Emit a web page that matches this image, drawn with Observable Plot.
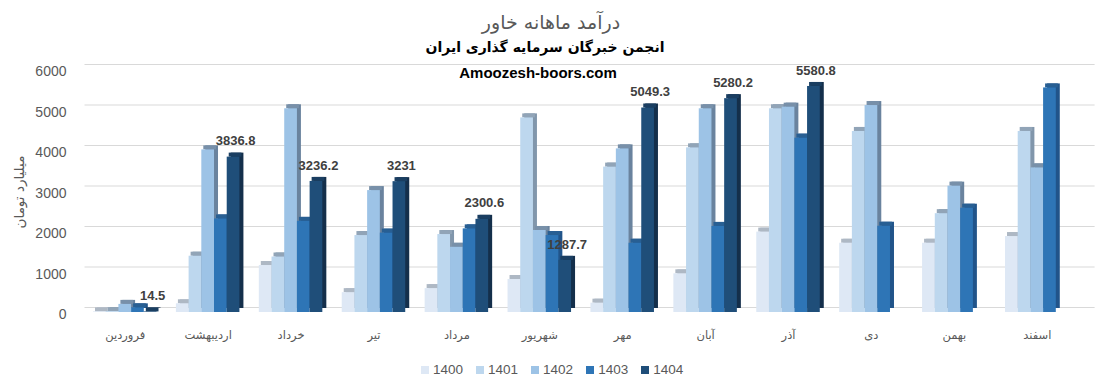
<!DOCTYPE html>
<html><head><meta charset="utf-8">
<script src="https://cdn.jsdelivr.net/npm/d3@7"></script>
<script src="https://cdn.jsdelivr.net/npm/@observablehq/plot@0.6"></script>
<style>
body{margin:0;background:#fff;}
#wrap{position:relative;width:1102px;height:385px;overflow:hidden;font-family:"Liberation Sans",Arial,sans-serif;background:#fff;}
#t1{position:absolute;top:8px;left:0;width:1102px;text-align:center;font-family:"DejaVu Sans";font-size:19px;color:#595959;line-height:28px;direction:rtl;}
#t2{position:absolute;top:37px;left:0;width:1090px;text-align:center;font-family:"DejaVu Sans";font-weight:bold;font-size:14px;color:#000;line-height:20px;direction:rtl;}
#site{position:absolute;top:63px;left:0;width:1076px;text-align:center;font-family:"Liberation Sans";font-weight:bold;font-size:15px;color:#000;line-height:20px;}
#ylab{position:absolute;left:19px;top:192px;transform:translate(-50%,-50%) rotate(-90deg);font-family:"DejaVu Sans";font-size:13.5px;color:#595959;white-space:nowrap;direction:rtl;}
#grid,#chart{position:absolute;left:0;top:52px;}
#legend{position:absolute;left:421px;top:361px;display:flex;gap:13px;align-items:center;font-size:13.5px;color:#595959;line-height:18px;}
#legend .it{display:flex;align-items:center;}
#legend .sw{width:8px;height:8px;margin-right:4px;}
#chart g[aria-label^="fx-axis"] text{font-family:"DejaVu Sans";font-size:11.5px;fill:#595959;}
</style>
</head><body>
<div id="wrap">
  <div id="t1">درآمد ماهانه خاور</div>
  <div id="t2">انجمن خبرگان سرمایه گذاری ایران</div>
  <div id="grid"></div>
  <div id="chart"></div>
  <div id="site">Amoozesh-boors.com</div>
  <div id="ylab">میلیارد تومان</div>
  <div id="legend"></div>
</div>
<script>
// ---- data ----
const months = ["فروردین","اردیبهشت","خرداد","تیر","مرداد","شهریور","مهر","آبان","آذر","دی","بهمن","اسفند"];
const years = ["1400","1401","1402","1403","1404"];
const v1400 = [15, 215, 1160, 490, 590, 815, 230, 955, 1985, 1710, 1710, 1875];
const v1401 = [20, 1390, 1370, 1900, 1925, 4805, 3590, 4065, 5030, 4470, 2440, 4470];
const v1402 = [200, 4015, 5030, 3010, 1610, 2025, 4040, 5030, 5070, 5110, 3120, 3570];
const v1403 = [115, 2310, 2250, 1960, 2065, 1900, 1710, 2125, 4305, 2130, 2575, 5545];
const v1404 = [14.5, 3836.8, 3236.2, 3231, 2300.6, 1287.7, 5049.3, 5280.2, 5580.8, null, null, null];
const yTicks = [0, 1000, 2000, 3000, 4000, 5000, 6000];

// ---- styles ----
const faceColors = ["#dee8f5", "#bdd7ee", "#9dc3e6", "#2e75b6", "#1f4e79"];
const topColors  = ["#aeb8c4", "#91a4b7", "#7890a9", "#285f93", "#1a3e61"];
const sideColors = ["#b5c0cd", "#8196ab", "#6a839e", "#21548a", "#142f4b"];

const series = [v1400, v1401, v1402, v1403, v1404];
const rows = [];
months.forEach((m, i) => years.forEach((y, j) => {
  const v = series[j][i];
  if (v != null) rows.push({month: m, year: y, value: v});
}));

const yScale = {domain: [0, 6000], range: [260, 17], nice: false};
const baseStyle = {fontFamily: "Liberation Sans", fontSize: "14px", color: "#595959", background: "transparent"};

// background: gridlines + y axis
const grid = Plot.plot({
  width: 1102, height: 300, marginLeft: 74.5, marginRight: 23.4, marginTop: 17, marginBottom: 40,
  style: baseStyle,
  y: {...yScale, axis: null},
  marks: [
    Plot.ruleY(yTicks, {y: d => d, stroke: "#d9d9d9", strokeWidth: 1.2, dy: -5, insetLeft: 10, insetRight: -16}),
    Plot.axisY(yTicks, {tickSize: 0, tickPadding: 8.5, dy: 2.5, tickFormat: d3.format("d"), label: null, fill: "#595959"})
  ]
});
document.getElementById("grid").appendChild(grid);

const marks = [];
years.forEach((yr, j) => {
  const d = rows.filter(r => r.year === yr);
  marks.push(Plot.barY(d, {fx: "month", x: "year", y: "value", fill: sideColors[j], dx: 4, dy: -4}));
  marks.push(Plot.barY(d, {fx: "month", x: "year", y1: "value", y2: "value", insetTop: -4, dx: 2, fill: topColors[j]}));
  marks.push(Plot.barY(d, {fx: "month", x: "year", y: "value", fill: faceColors[j]}));
});
marks.push(Plot.text(rows.filter(r => r.year === "1404"), {
  fx: "month", x: "year", y: "value", text: d => String(d.value),
  dy: -16, dx: 2, fontWeight: "bold", fontSize: 13, fill: "#404040", fontFamily: "Liberation Sans"
}));

const chart = Plot.plot({
  width: 1102, height: 300, marginLeft: 93, marginRight: 33.5, marginTop: 17, marginBottom: 40,
  style: baseStyle,
  fx: {domain: months, paddingInner: 0.234, paddingOuter: 0, round: false, label: null, tickSize: 0, tickPadding: 18, axis: "bottom"},
  x: {domain: years, padding: 0, round: false, axis: null},
  y: {...yScale, axis: null},
  marks
});
document.getElementById("chart").appendChild(chart);

// legend
const lg = document.getElementById("legend");
years.forEach((y, j) => {
  const it = document.createElement("div"); it.className = "it";
  const sw = document.createElement("div"); sw.className = "sw"; sw.style.background = faceColors[j];
  const tx = document.createElement("span"); tx.textContent = y;
  it.appendChild(sw); it.appendChild(tx); lg.appendChild(it);
});
</script>
</body></html>
